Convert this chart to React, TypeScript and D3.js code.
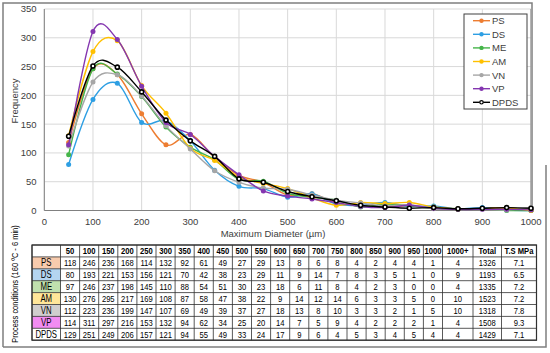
import React from "react";
import * as d3 from "d3";

// particle size distribution, counts per diameter class
const diameters = [50, 100, 150, 200, 250, 300, 350, 400, 450, 500, 550, 600, 650, 700, 750, 800, 850, 900, 950, 1000];
const xTicks = [0, 100, 200, 300, 400, 500, 600, 700, 800, 900, 1000];
const yTicks = [0, 50, 100, 150, 200, 250, 300, 350];

const seriesNames = ["PS", "DS", "ME", "AM", "VN", "VP", "DPDS"];
const psCounts = [118, 246, 236, 168, 114, 132, 92, 61, 49, 27, 29, 13, 8, 6, 8, 4, 2, 4, 4, 1];
const dsCounts = [80, 193, 221, 153, 156, 121, 70, 42, 38, 23, 29, 11, 9, 14, 7, 8, 3, 5, 1, 0];
const meCounts = [97, 246, 237, 198, 145, 110, 88, 54, 51, 30, 23, 18, 6, 11, 8, 4, 2, 3, 0, 0];
const amCounts = [130, 276, 295, 217, 169, 108, 87, 58, 47, 38, 22, 9, 14, 12, 14, 6, 3, 3, 5, 0];
const vnCounts = [112, 223, 236, 199, 147, 107, 69, 49, 39, 37, 27, 18, 13, 8, 10, 3, 3, 2, 1, 5];
const vpCounts = [114, 311, 297, 216, 153, 132, 94, 62, 34, 25, 20, 14, 7, 5, 9, 4, 2, 2, 2, 1];
const dpdsCounts = [129, 251, 249, 206, 157, 121, 94, 55, 49, 33, 24, 17, 9, 6, 4, 5, 3, 4, 5, 4];
const over1000 = [4, 9, 4, 10, 10, 4, 4];
const totals = [1326, 1193, 1335, 1523, 1318, 1508, 1429];
const tensile = ["7.1", "6.5", "7.2", "7.2", "7.8", "9.3", "7.1"];

const allCounts = [psCounts, dsCounts, meCounts, amCounts, vnCounts, vpCounts, dpdsCounts];

const lineColors = ["#ED7D31", "#2E9FE3", "#45B549", "#FFC000", "#A6A6A6", "#8436B0", "#000000"];
const cellFills = ["#F8CBAD", "#B4D5F0", "#C0E0AE", "#FFE699", "#D0CECE", "#F28CF2", "#FFFFFF"];

const FONT = "'Liberation Sans', Arial, sans-serif";

function Narrow(props: { x: number; y: number; bold?: boolean; size?: number; children: React.ReactNode }) {
  const { x, y, bold, size = 9.8, children } = props;
  return (
    <text
      transform={`translate(${x},${y}) scale(0.78,1)`}
      textAnchor="middle"
      fontFamily={FONT}
      fontSize={size}
      fontWeight={bold ? "bold" : "normal"}
      fill="#000"
    >
      {children}
    </text>
  );
}

export default function App() {
  const x = d3.scaleLinear().domain([0, 1000]).range([44.3, 531]);
  const y = d3.scaleLinear().domain([0, 350]).range([210.5, 9]);
  const line = d3
    .line<number>()
    .x((d, i) => x(diameters[i]))
    .y((d) => y(d))
    .curve(d3.curveCatmullRom.alpha(0));

  // table geometry
  const tTop = 245;
  const rowH = 11.9;
  const tLeft = 32;
  const labelRight = 60.5;
  const col = d3.scaleBand<number>().domain(diameters).range([labelRight, 442.5]);
  const extraCols = [
    { x0: 442.5, x1: 473, head: "1000+" },
    { x0: 473, x1: 501.5, head: "Total" },
    { x0: 501.5, x1: 536.5, head: "T.S MPa" },
  ];
  const tRight = 536.5;
  const nRows = seriesNames.length + 1;
  const tBottom = tTop + rowH * nRows;
  const textY = (r: number) => tTop + rowH * r + rowH / 2 + 3.4;

  const legX = 464;
  const legY = 14;

  return (
    <svg width={550} height={353} style={{ position: "absolute", left: 0, top: 0 }}>
      <rect x={0} y={0} width={550} height={353} fill="#fff" />
      {/* outer frames */}
      <path d="M3,347 L3,3 L532,3 L532,212" fill="none" stroke="#7f7f7f" strokeWidth={1.5} />
      <path d="M3,347 L546,347 L546,165" fill="none" stroke="#7f7f7f" strokeWidth={1.5} />

      {/* grid */}
      {yTicks.map((t) => (
        <line key={"gy" + t} x1={x(0)} x2={x(1000)} y1={y(t)} y2={y(t)} stroke="#d9d9d9" strokeWidth={1} />
      ))}
      {xTicks.map((t) => (
        <line key={"gx" + t} x1={x(t)} x2={x(t)} y1={y(0)} y2={y(350)} stroke="#d9d9d9" strokeWidth={1} />
      ))}
      <line x1={x(0)} x2={x(0)} y1={y(0)} y2={y(350)} stroke="#808080" />
      <line x1={x(1000)} x2={x(1000)} y1={y(0)} y2={y(350)} stroke="#808080" />
      <line x1={x(0)} x2={x(1000)} y1={y(0)} y2={y(0)} stroke="#808080" />

      {/* ticks */}
      {yTicks.map((t) => (
        <text key={"ty" + t} x={36.5} y={y(t) + 3.4} textAnchor="end" fontFamily={FONT} fontSize={9.5} fill="#404040">
          {t}
        </text>
      ))}
      {xTicks.map((t) => (
        <text key={"tx" + t} x={x(t)} y={224.5} textAnchor="middle" fontFamily={FONT} fontSize={9.5} fill="#404040">
          {t}
        </text>
      ))}
      <text x={273} y={237} textAnchor="middle" fontFamily={FONT} fontSize={9.5} fill="#404040">
        Maximum Diameter (µm)
      </text>
      <text
        transform={`translate(18,101) rotate(-90)`}
        textAnchor="middle"
        fontFamily={FONT}
        fontSize={9.5}
        fill="#404040"
      >
        Frequency
      </text>

      {/* series */}
      {allCounts.map((vals, si) => (
        <g key={seriesNames[si]}>
          <path d={line(vals) || ""} fill="none" stroke={lineColors[si]} strokeWidth={1.4} />
          {vals.map((v, i) =>
            si === 6 ? (
              <circle key={i} cx={x(diameters[i])} cy={y(v)} r={2} fill="#fff" stroke="#000" strokeWidth={1.6} />
            ) : (
              <circle key={i} cx={x(diameters[i])} cy={y(v)} r={2.5} fill={lineColors[si]} />
            )
          )}
        </g>
      ))}

      {/* legend */}
      <rect x={legX} y={legY} width={63} height={95} fill="#fff" stroke="#404040" strokeWidth={1} />
      {seriesNames.map((n, i) => {
        const ly = 20.7 + i * 13.6;
        return (
          <g key={"lg" + n}>
            <line x1={473} x2={490} y1={ly} y2={ly} stroke={lineColors[i]} strokeWidth={1.4} />
            {i === 6 ? (
              <circle cx={481.5} cy={ly} r={1.7} fill="#fff" stroke="#000" strokeWidth={1.2} />
            ) : (
              <circle cx={481.5} cy={ly} r={2.2} fill={lineColors[i]} />
            )}
            <text x={492} y={ly + 3.4} fontFamily={FONT} fontSize={9.5} fill="#404040">
              {n}
            </text>
          </g>
        );
      })}

      {/* side label for table */}
      <text
        transform={`translate(18,284) rotate(-90) scale(0.78,1)`}
        textAnchor="middle"
        fontFamily={FONT}
        fontSize={9.6}
        fill="#000"
      >
        Process conditions (160 ºC - 6 min)
      </text>

      {/* table */}
      {seriesNames.map((n, i) => (
        <rect
          key={"cf" + n}
          x={tLeft}
          y={tTop + rowH * (i + 1)}
          width={labelRight - tLeft}
          height={rowH}
          fill={cellFills[i]}
        />
      ))}
      {d3.range(nRows + 1).map((r) => (
        <line key={"hr" + r} x1={tLeft} x2={tRight} y1={tTop + rowH * r} y2={tTop + rowH * r} stroke="#303030" strokeWidth={0.8} />
      ))}
      {[tLeft, labelRight, ...diameters.map((d) => (col(d) as number) + col.bandwidth()), ...extraCols.map((c) => c.x1)].map(
        (vx, i) => (
          <line key={"vr" + i} x1={vx} x2={vx} y1={tTop} y2={tBottom} stroke="#303030" strokeWidth={0.8} />
        )
      )}
      <rect x={tLeft} y={tTop} width={tRight - tLeft} height={tBottom - tTop} fill="none" stroke="#303030" strokeWidth={1.2} />

      {diameters.map((d) => (
        <Narrow key={"h" + d} x={(col(d) as number) + col.bandwidth() / 2} y={textY(0)} bold>
          {d}
        </Narrow>
      ))}
      {extraCols.map((c) => (
        <Narrow key={"he" + c.head} x={(c.x0 + c.x1) / 2} y={textY(0)} bold>
          {c.head}
        </Narrow>
      ))}
      {seriesNames.map((n, i) => (
        <g key={"row" + n}>
          <Narrow x={(tLeft + labelRight) / 2} y={textY(i + 1)} size={10}>
            {n}
          </Narrow>
          {allCounts[i].map((v, j) => (
            <Narrow key={j} x={(col(diameters[j]) as number) + col.bandwidth() / 2} y={textY(i + 1)}>
              {v}
            </Narrow>
          ))}
          <Narrow x={(extraCols[0].x0 + extraCols[0].x1) / 2} y={textY(i + 1)}>
            {over1000[i]}
          </Narrow>
          <Narrow x={(extraCols[1].x0 + extraCols[1].x1) / 2} y={textY(i + 1)}>
            {totals[i]}
          </Narrow>
          <Narrow x={(extraCols[2].x0 + extraCols[2].x1) / 2} y={textY(i + 1)}>
            {tensile[i]}
          </Narrow>
        </g>
      ))}
    </svg>
  );
}
